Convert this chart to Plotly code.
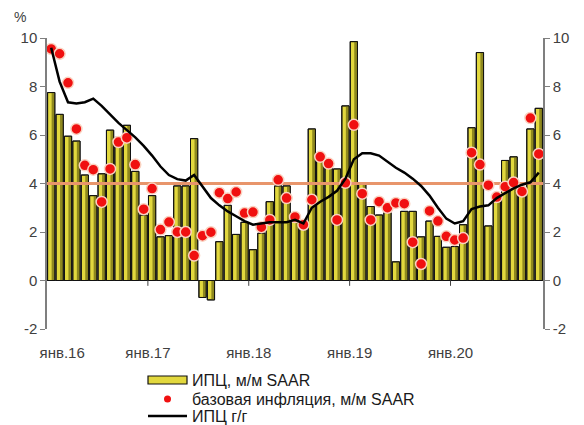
import numpy as np
import plotly.graph_objects as go

# ---- data (Jan 2016 .. Nov 2020, monthly) ----
cpi_mm = [7.75, 6.85, 5.95, 5.75, 4.35, 3.5, 4.4, 6.2, 5.9, 6.4, 4.5, 2.7,
          3.5, 1.8, 1.85, 3.9, 3.9, 5.85, -0.7, -0.8, 1.6, 3.1, 1.9, 2.4,
          1.27, 1.95, 3.25, 3.9, 3.9, 2.55, 2.35, 6.25, 4.95, 4.75, 4.6, 7.2,
          9.85, 4.0, 3.05, 2.7, 2.8, 0.77, 2.85, 2.85, 1.8, 2.45, 1.82, 1.37,
          1.4, 2.3, 6.3, 9.4, 2.25, 3.3, 4.95, 5.1, 3.5, 6.25, 7.1]
core_mm = [9.55, 9.35, 8.15, 6.25, 4.75, 4.57, 3.24, 4.6, 5.71, 5.89, 4.78, 2.94,
           3.79, 2.1, 2.41, 2.0, 2.0, 1.03, 1.85, 1.99, 3.62, 3.38, 3.65, 2.78,
           2.82, 2.2, 2.5, 4.15, 3.4, 2.62, 2.3, 3.33, 5.1, 4.82, 2.5, 4.03,
           6.42, 3.58, 2.5, 3.25, 3.0, 3.2, 3.17, 1.58, 0.68, 2.87, 2.45, 1.82,
           1.67, 1.75, 5.27, 4.78, 3.93, 3.44, 3.87, 4.04, 3.67, 6.7, 5.22]
cpi_yy = [9.6, 8.2, 7.35, 7.3, 7.35, 7.5, 7.2, 6.85, 6.5, 6.2, 5.9, 5.55,
          5.15, 4.7, 4.35, 4.18, 4.12, 4.35, 3.9, 3.4, 3.1, 2.85, 2.65, 2.45,
          2.3, 2.35, 2.4, 2.4, 2.4, 2.5, 2.35, 3.0, 3.25, 3.45, 3.7, 4.2,
          5.0, 5.25, 5.25, 5.15, 4.9, 4.65, 4.45, 4.2, 3.9, 3.5, 3.0, 2.55,
          2.35, 2.45, 2.95, 3.05, 3.1, 3.4, 3.6, 3.8, 3.95, 4.05, 4.45]
target = 4.0
series_names = ["ИПЦ, м/м SAAR", "базовая инфляция, м/м SAAR", "ИПЦ г/г"]
year_labels = ["янв.16", "янв.17", "янв.18", "янв.19", "янв.20"]
y_ticks = [-2, 0, 2, 4, 6, 8, 10]
y_ticktext = [str(v) for v in y_ticks]

n = len(cpi_mm)
x = np.arange(n)
year_bounds = [12 * k - 0.5 for k in range(1, 5)]
label_pos = [1.3] + year_bounds

FONT = "Liberation Sans, Arial, sans-serif"
TXT = "#404040"
BAR_Y = "#E2D83E"
BAR_O = "#8E881E"
DOT = "#F01010"

# page body has an 8px margin, so the figure is sized to fill the window
OFF = 8
W, H = 584 - OFF, 425 - OFF
ML, MT = 47 - OFF, 38 - OFF
MR = W - (543 - OFF)
MB = H - (329 - OFF)
PW, PH = W - ML - MR, H - MT - MB


def px(xs):
    return (xs - OFF - ML) / PW


def py(ys):
    return (H - MB - (ys - OFF)) / PH


fig = go.Figure()
fig.add_trace(go.Bar(x=x, y=cpi_mm, name=series_names[0], width=0.86,
                     marker=dict(color=BAR_Y, line=dict(color="#111111", width=1))))
fig.add_trace(go.Bar(x=x, y=cpi_mm, width=0.36, offset=0.05, showlegend=False,
                     hoverinfo="skip", marker=dict(color=BAR_O, line=dict(width=0))))
fig.add_trace(go.Bar(x=x, y=cpi_mm, width=0.86, showlegend=False, hoverinfo="skip",
                     marker=dict(color="rgba(0,0,0,0)", line=dict(color="#111111", width=1))))
fig.add_trace(go.Scatter(x=[-0.5, n - 0.5], y=[target, target], mode="lines",
                         line=dict(color="#E8956B", width=3), showlegend=False,
                         hoverinfo="skip"))
fig.add_trace(go.Scatter(x=x, y=cpi_yy, mode="lines", name=series_names[2],
                         line=dict(color="#000000", width=2.5), yaxis="y2"))
fig.add_trace(go.Scatter(x=x, y=core_mm, mode="markers", name=series_names[1],
                         marker=dict(color=DOT, size=11,
                                     line=dict(color="#FAD2C0", width=1.5))))

shapes = [dict(type="line", xref="x", yref="y", x0=b, x1=b, y0=0, y1=-0.22,
               line=dict(color="#404040", width=1)) for b in year_bounds]

# legend (drawn below the plot)
leg_rows = [380, 399, 416]
sym_x0, sym_x1, txt_x = 148, 187, 190
shapes.append(dict(type="rect", xref="paper", yref="paper",
                   x0=px(sym_x0), x1=px(sym_x1), y0=py(leg_rows[0] + 4), y1=py(leg_rows[0] - 4),
                   fillcolor=BAR_Y, line=dict(color="#111111", width=1.2)))
shapes.append(dict(type="circle", xref="paper", yref="paper",
                   x0=px(164), x1=px(171), y0=py(leg_rows[1] + 3.5), y1=py(leg_rows[1] - 3.5),
                   fillcolor=DOT, line=dict(color=DOT, width=0)))
shapes.append(dict(type="line", xref="paper", yref="paper",
                   x0=px(sym_x0), x1=px(sym_x1), y0=py(leg_rows[2]), y1=py(leg_rows[2]),
                   line=dict(color="#000000", width=2.5)))

annotations = [dict(text="%", xref="paper", yref="paper", x=px(20), y=py(17),
                    xanchor="center", yanchor="middle", showarrow=False,
                    font=dict(size=14, color=TXT))]
for name, row in zip(series_names, leg_rows):
    annotations.append(dict(text=name, xref="paper", yref="paper", x=px(txt_x), y=py(row),
                            xanchor="left", yanchor="middle", showarrow=False,
                            font=dict(size=16, color="#1a1a1a")))

fig.update_layout(
    width=W, height=H,
    margin=dict(l=ML, r=MR, t=MT, b=MB, autoexpand=False),
    paper_bgcolor="white", plot_bgcolor="white",
    barmode="overlay",
    font=dict(family=FONT, size=15, color=TXT),
    showlegend=False,
    xaxis=dict(range=[-0.5, n - 0.5], showgrid=False, zeroline=False,
               showline=False, ticks="", tickvals=label_pos, ticktext=year_labels,
               ticklabelstandoff=13, tickfont=dict(size=15, color=TXT)),
    yaxis=dict(range=[-2, 10], tickvals=y_ticks, ticktext=y_ticktext, showgrid=False,
               zeroline=True, zerolinecolor="#333333", zerolinewidth=1.3,
               showline=True, linecolor="#7f7f7f", linewidth=1.5,
               ticks="outside", ticklen=5, tickcolor="#7f7f7f",
               tickfont=dict(size=15, color=TXT)),
    yaxis2=dict(range=[-2, 10], tickvals=y_ticks, ticktext=y_ticktext,
                overlaying="y", side="right",
                showgrid=False, zeroline=False, showline=True,
                linecolor="#7f7f7f", linewidth=1.5, ticks="outside", ticklen=5,
                tickcolor="#7f7f7f", tickfont=dict(size=15, color=TXT)),
    shapes=shapes,
    annotations=annotations,
)

fig.write_html("out.html")
